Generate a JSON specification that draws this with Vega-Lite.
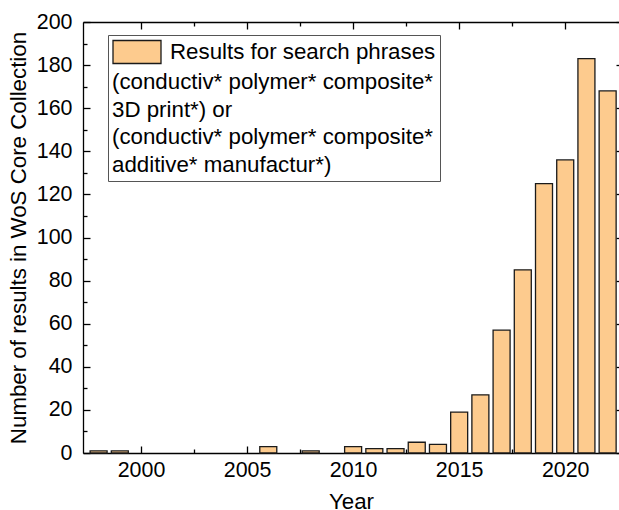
{
  "$schema": "https://vega.github.io/schema/vega-lite/v6.json",
  "autosize": {"type": "none"},
  "padding": {"left": 83, "top": 22, "right": 0, "bottom": 57},
  "width": 536,
  "height": 431,
  "background": "white",
  "config": {
    "view": {"stroke": null},
    "font": "Liberation Sans",
    "axis": {"grid": false, "domainColor": "#000", "tickColor": "#000", "labelColor": "#000", "titleColor": "#000", "labelFont": "Liberation Sans", "titleFont": "Liberation Sans", "labelFontSize": 21.4, "titleFontSize": 22.3, "titleFontWeight": "normal", "domainWidth": 1.3, "tickWidth": 1.3}
  },
  "data": {"values": [
    {"Year": 1998, "Count": 1, "Series": "Results for search phrases"},
    {"Year": 1999, "Count": 1, "Series": "Results for search phrases"},
    {"Year": 2006, "Count": 3, "Series": "Results for search phrases"},
    {"Year": 2008, "Count": 1, "Series": "Results for search phrases"},
    {"Year": 2010, "Count": 3, "Series": "Results for search phrases"},
    {"Year": 2011, "Count": 2, "Series": "Results for search phrases"},
    {"Year": 2012, "Count": 2, "Series": "Results for search phrases"},
    {"Year": 2013, "Count": 5, "Series": "Results for search phrases"},
    {"Year": 2014, "Count": 4, "Series": "Results for search phrases"},
    {"Year": 2015, "Count": 19, "Series": "Results for search phrases"},
    {"Year": 2016, "Count": 27, "Series": "Results for search phrases"},
    {"Year": 2017, "Count": 57, "Series": "Results for search phrases"},
    {"Year": 2018, "Count": 85, "Series": "Results for search phrases"},
    {"Year": 2019, "Count": 125, "Series": "Results for search phrases"},
    {"Year": 2020, "Count": 136, "Series": "Results for search phrases"},
    {"Year": 2021, "Count": 183, "Series": "Results for search phrases"},
    {"Year": 2022, "Count": 168, "Series": "Results for search phrases"}
  ]},
  "layer": [
    {
      "mark": {"type": "bar", "width": 17, "stroke": "#1a1a1a", "strokeWidth": 1.3},
      "encoding": {
        "x": {"field": "Year", "type": "quantitative",
              "scale": {"domain": [1997.5, 2022.3], "nice": false, "zero": false},
              "axis": {"orient": "bottom", "values": [2000, 2005, 2010, 2015, 2020], "format": "d", "tickSize": -7, "labelPadding": 13, "title": "Year", "titlePadding": 10, "labelFlush": false}},
        "y": {"field": "Count", "type": "quantitative",
              "scale": {"domain": [0, 200], "nice": false},
              "axis": {"orient": "left", "values": [0, 20, 40, 60, 80, 100, 120, 140, 160, 180, 200], "tickSize": -7, "labelPadding": 18, "title": "Number of results in WoS Core Collection", "titlePadding": 6, "labelFlush": false}},
        "fill": {"field": "Series", "type": "nominal",
                 "scale": {"range": ["#FDCB8E"]},
                 "legend": {
                   "orient": "none", "legendX": 25, "legendY": 13,
                   "title": ["(conductiv* polymer* composite*", "3D print*) or", "(conductiv* polymer* composite*", "additive* manufactur*)"],
                   "titleOrient": "bottom", "titleAnchor": "start", "titleFontSize": 22.3, "titleFontWeight": "normal", "titleFont": "Liberation Sans", "titleColor": "#000", "titleLineHeight": 27.7, "titlePadding": 5, "titleLimit": 400,
                   "labelFontSize": 22.3, "labelFont": "Liberation Sans", "labelColor": "#000", "labelOffset": 32, "labelLimit": 400,
                   "symbolType": "M-1,-0.96L3,-0.96L3,0.96L-1,0.96Z", "symbolSize": 576, "symbolStrokeColor": "#1a1a1a", "symbolStrokeWidth": 1.3, "symbolOpacity": 1,
                   "strokeColor": "#555", "fillColor": "white", "padding": 4
                 }}
      }
    },
    {
      "mark": {"type": "point", "opacity": 0},
      "encoding": {
        "x": {"field": "Year", "type": "quantitative",
              "axis": {"orient": "bottom", "values": [2002.5, 2007.5, 2012.5, 2017.5], "tickSize": -4, "labels": false, "domain": false, "title": null}},
        "y": {"field": "Count", "type": "quantitative",
              "axis": {"orient": "left", "values": [10, 30, 50, 70, 90, 110, 130, 150, 170, 190], "tickSize": -4, "labels": false, "domain": false, "title": null}}
      }
    },
    {
      "mark": {"type": "point", "opacity": 0},
      "encoding": {
        "x": {"field": "Year", "type": "quantitative",
              "axis": {"orient": "top", "values": [2000, 2005, 2010, 2015, 2020], "tickSize": -7, "labels": false, "title": null}},
        "y": {"field": "Count", "type": "quantitative",
              "axis": {"orient": "right", "offset": 4, "values": [0, 20, 40, 60, 80, 100, 120, 140, 160, 180, 200], "tickSize": -7, "labels": false, "title": null}}
      }
    },
    {
      "mark": {"type": "point", "opacity": 0},
      "encoding": {
        "x": {"field": "Year", "type": "quantitative",
              "axis": {"orient": "top", "values": [2002.5, 2007.5, 2012.5, 2017.5], "tickSize": -4, "labels": false, "domain": false, "title": null}},
        "y": {"field": "Count", "type": "quantitative",
              "axis": {"orient": "right", "offset": 4, "values": [10, 30, 50, 70, 90, 110, 130, 150, 170, 190], "tickSize": -4, "labels": false, "domain": false, "title": null}}
      }
    }
  ]
}
